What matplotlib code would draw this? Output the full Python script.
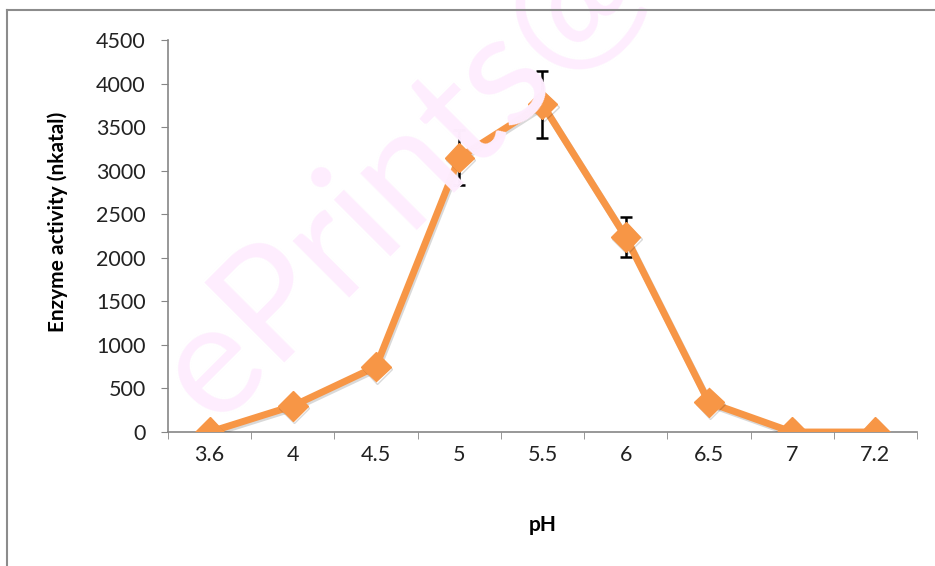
import matplotlib.pyplot as plt
import matplotlib.patheffects as pe
from matplotlib.lines import Line2D
import numpy as np

# data
ph_labels = ["3.6", "4", "4.5", "5", "5.5", "6", "6.5", "7", "7.2"]
activity = [0, 300, 750, 3150, 3760, 2240, 340, 0, 0]
error = [0, 0, 0, 320, 380, 230, 0, 0, 0]

plt.rcParams['font.family'] = ['Lato', 'DejaVu Sans']

fig = plt.figure(figsize=(9.35, 5.66), dpi=100)
ax = fig.add_axes([0.1797, 0.2367, 0.801, 0.6926])

# outer frame (left and top edges visible)
fig.add_artist(Line2D([7/935, 7/935], [0, 1 - 10/566], color='#8c8c8c', lw=1.5))
fig.add_artist(Line2D([7/935, 1], [1 - 10/566, 1 - 10/566], color='#8c8c8c', lw=1.5))

# watermark (runs off the top edge like in the source)
fig.text(0.43, 0.69, "ePrints@", fontsize=114, color='#feedfe', rotation=45,
         ha='center', va='center', zorder=0, clip_on=False)

x = np.arange(len(ph_labels))
err = np.array(error, dtype=float)
mask = err > 0
ax.errorbar(x[mask], np.array(activity)[mask], yerr=err[mask], fmt='none',
            ecolor='black', elinewidth=1.8, capsize=4.5, capthick=1.8, zorder=2)
ax.plot(x, activity, color='#f79646', lw=5, marker='D', markersize=15,
        markerfacecolor='#f79646', markeredgecolor='#f79646', zorder=3,
        path_effects=[pe.SimpleLineShadow(offset=(1, -1.5), alpha=0.15), pe.Normal()])

ax.set_xlim(-0.5, 8.5)
ax.set_ylim(0, 4500)
ax.set_yticks(range(0, 4501, 500))
ax.set_xticks(x)
ax.set_xticklabels(ph_labels)
ax.set_xticks(np.arange(-0.5, 9, 1), minor=True)
ax.tick_params(axis='x', which='major', length=0, pad=9, labelsize=15.5, labelcolor='#222222')
ax.tick_params(axis='x', which='minor', length=5, color='#868686', direction='out')
ax.tick_params(axis='y', length=5, color='#868686', labelsize=15.5, labelcolor='#222222', pad=11)

for s in ['top', 'right']:
    ax.spines[s].set_visible(False)
for s in ['left', 'bottom']:
    ax.spines[s].set_color('#868686')
    ax.spines[s].set_linewidth(1.2)

ax.set_xlabel("pH", fontsize=15, fontweight='bold', labelpad=36)
ax.set_ylabel("Enzyme activity (nkatal)", fontsize=15, fontweight='bold')
ax.yaxis.set_label_coords(-0.133, 0.535)
ax.patch.set_alpha(0)

fig.savefig("out.png", dpi=100)
